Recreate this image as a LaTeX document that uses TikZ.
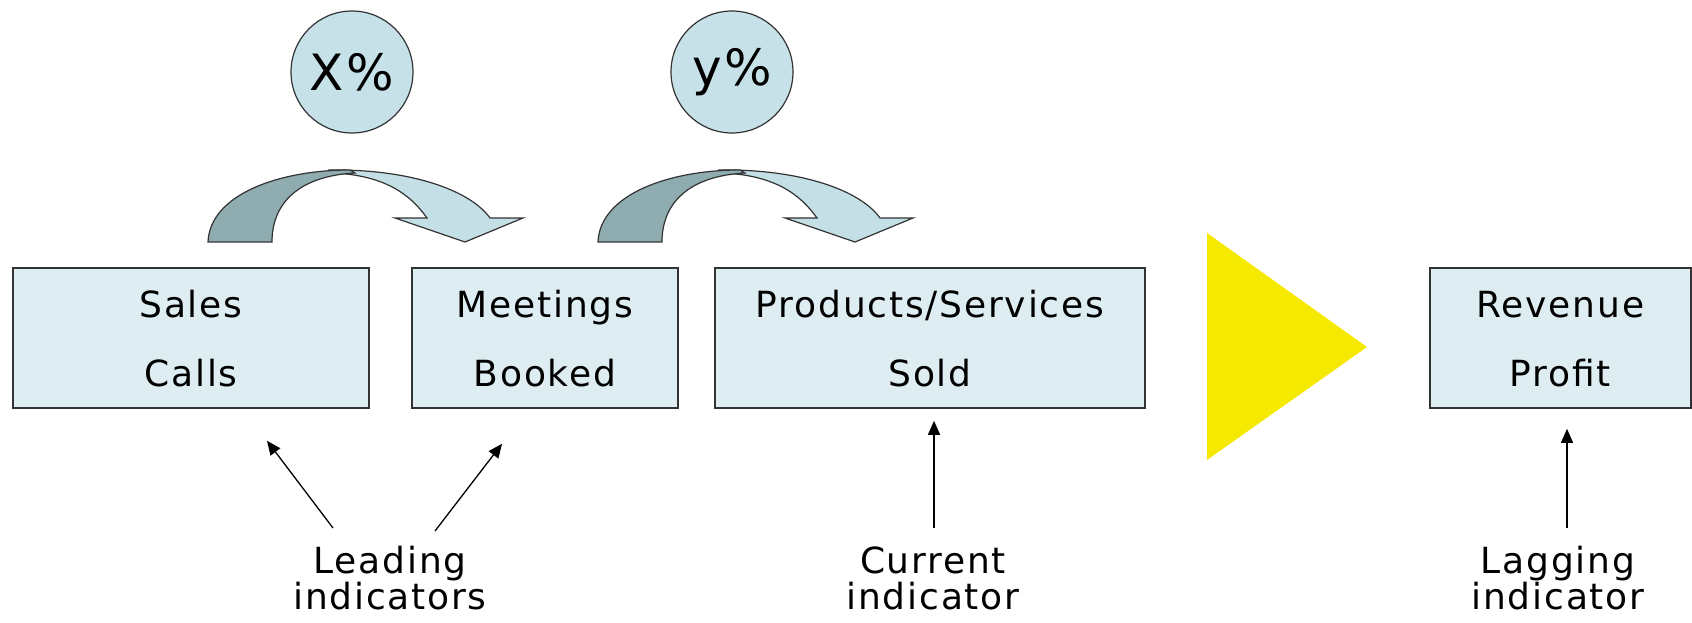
\documentclass[tikz,border=0pt]{standalone}
\usepackage{fontspec}
\setmainfont{DejaVu Sans}[LetterSpace=5]
\usepackage{tikz}
\usetikzlibrary{arrows.meta,calc}
\definecolor{boxfill}{HTML}{DDEDF1}
\definecolor{pctfill}{HTML}{C6E2E8}
\definecolor{bendlight}{HTML}{C4E0E6}
\definecolor{benddark}{HTML}{8FACB0}
\definecolor{edgegrey}{HTML}{333333}
\definecolor{stepyellow}{HTML}{F6E900}
\newcommand{\boxfont}{\fontsize{18}{34.5}\selectfont}

\begin{document}
\begin{tikzpicture}[x=0.5pt,y=0.5pt,>={Triangle[length=7pt,width=6pt]},
  stage/.style={draw=edgegrey,line width=0.8pt,fill=boxfill,align=center,
    inner sep=0pt,minimum height=70pt,text height=49pt,text depth=0pt,
    font=\boxfont},
  pct/.style={draw=edgegrey,line width=0.6pt,fill=pctfill,circle,
    minimum size=61pt,inner sep=0pt,font=\fontsize{25}{30}\selectfont},
  tag/.style={align=center,inner sep=0pt,anchor=north,
    font=\fontsize{18}{18}\selectfont},
  ind/.style={->,line width=0.65pt}]
  \useasboundingbox (0,0) rectangle (1692,622);

  % funnel stages
  \node[stage,minimum width=178pt] (calls) at (191,284) {Sales\\Calls};
  \node[stage,minimum width=133pt] (booked) at (545,284) {Meetings\\Booked};
  \node[stage,minimum width=215pt] (sold) at (930,284) {Products/Services\\Sold};
  \node[stage,minimum width=130.5pt] (profit) at (1560.5,284) {Revenue\\Profit};
  \fill[stepyellow] (1207,389) -- (1207,162) -- (1367,275) -- cycle;

  % conversion rates
  \node[pct] (xrate) at (352,550) {X\%};
  \node[pct] (yrate) at (732,550) {y\%};
  \foreach \dx in {0,390}{
    \begin{scope}[shift={(\dx,0)},draw=edgegrey,line width=0.6pt]
      \filldraw[fill=bendlight] (330,452) .. controls (410,453) and (470,432) .. (490,404)
        -- (523,404) -- (465,380) -- (395,404) -- (427,404)
        .. controls (410,428) and (385,446) .. (335,449) -- cycle;
      \filldraw[fill=benddark] (208,380) .. controls (210,428) and (280,452) .. (350,452)
        -- (355,449) .. controls (300,446) and (272,420) .. (272,380) -- cycle;
    \end{scope}
  }

  % indicator labels
  \node[tag] (lead) at (390,76) {Leading\\indicators};
  \node[tag] (current) at (933,76) {Current\\indicator};
  \node[tag] (lag) at (1558,76) {Lagging\\indicator};

  \draw[ind] ($(lead.north)+(-57,18)$) -- ($(calls.south)+(76,-32)$);
  \draw[ind] ($(lead.north)+(45,15)$) -- ($(booked.south)+(-43,-35)$);
  \draw[ind] ($(current.north)+(1,18)$) -- ($(sold.south)+(4,-12)$);
  \draw[ind] ($(lag.north)+(9,18)$) -- ($(profit.south)+(6.5,-20)$);
\end{tikzpicture}
\end{document}
